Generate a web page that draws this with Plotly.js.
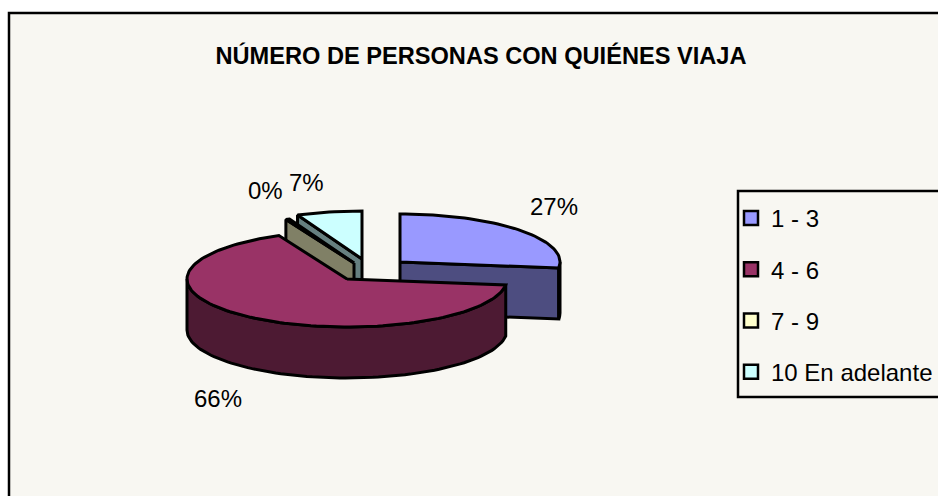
<!DOCTYPE html>
<html>
<head>
<meta charset="utf-8">
<script src="https://cdn.plot.ly/plotly-3.0.1.min.js"></script>
<style>html,body{margin:0;padding:0;background:#fff}</style>
</head>
<body>
<div id="chart" style="width:938px;height:496px"></div>
<script>
var categories = ['1 - 3', '4 - 6', '7 - 9', '10 En adelante'];
var values = [27, 66, 0.4, 6.6];
var topColors = ['#9999FF', '#993366', '#FFFFCC', '#CCFFFF'];
var sideColors = ['#4D4D80', '#4D1A33', '#808066', '#668080'];
var offsetX = [53, 0, 7, 15];
var offsetY = [-17, 0, -16, -20];
var labelX = [554, 218, 265, 306];
var labelY = [206, 398, 190, 182];
var drawOrder = [3, 2, 0, 1];

var CX = 347, CY = 279, RX = 160, RY = 48, DEPTH = 51;
var FONT = '"Liberation Sans", Arial, sans-serif';
var total = values.reduce(function (a, b) { return a + b; }, 0);

var starts = [], ends = [], acc = 0;
values.forEach(function (v) {
  starts.push(acc / total * 360);
  acc += v;
  ends.push(acc / total * 360);
});

function rim(cx, cy, deg) {
  var r = deg * Math.PI / 180;
  return [cx + RX * Math.sin(r), cy - RY * Math.cos(r)];
}
function arc(cx, cy, a0, a1) {
  var pts = [], n = Math.max(2, Math.ceil((a1 - a0) / 2));
  for (var i = 0; i <= n; i++) pts.push(rim(cx, cy, a0 + (a1 - a0) * i / n));
  return pts;
}
function poly(pts, color) {
  var closed = pts.concat([pts[0]]);
  return {
    type: 'scatter', mode: 'lines', fill: 'toself', fillcolor: color,
    x: closed.map(function (p) { return p[0]; }),
    y: closed.map(function (p) { return p[1]; }),
    line: { color: '#000', width: 3 },
    showlegend: false, hoverinfo: 'skip'
  };
}
function down(pts) {
  return pts.map(function (p) { return [p[0], p[1] + DEPTH]; });
}
function radialFace(cx, cy, deg, color) {
  var a = [[cx, cy], rim(cx, cy, deg)];
  return poly(a.concat(down(a).reverse()), color);
}

var traces = [];
drawOrder.forEach(function (i) {
  var cx = CX + offsetX[i], cy = CY + offsetY[i], a0 = starts[i], a1 = ends[i];
  if (a0 > 180) traces.push(radialFace(cx, cy, a0, sideColors[i]));
  if (a1 < 180) traces.push(radialFace(cx, cy, a1, sideColors[i]));
  var w0 = Math.max(a0, 90), w1 = Math.min(a1, 270);
  if (w1 > w0) {
    var wall = arc(cx, cy, w0, w1);
    traces.push(poly(wall.concat(down(wall).reverse()), sideColors[i]));
  }
  traces.push(poly([[cx, cy]].concat(arc(cx, cy, a0, a1)), topColors[i]));
});

categories.forEach(function (name, i) {
  traces.push({
    type: 'scatter', mode: 'markers', name: name, legendgroup: name,
    x: [null], y: [null], hoverinfo: 'skip',
    marker: { symbol: 'square', size: 14, color: topColors[i], line: { color: '#000', width: 2.5 } }
  });
});

var annotations = values.map(function (v, i) {
  return {
    xref: 'x', yref: 'y', x: labelX[i], y: labelY[i], showarrow: false,
    text: Math.round(v / total * 100) + '%',
    font: { family: FONT, size: 24, color: '#000' }
  };
});

var layout = {
  width: 938, height: 496, autosize: false,
  margin: { l: 0, r: 0, t: 0, b: 0 },
  paper_bgcolor: '#fff', plot_bgcolor: 'rgba(0,0,0,0)',
  title: {
    text: '<b>NÚMERO DE PERSONAS CON QUIÉNES VIAJA</b>',
    font: { family: FONT, size: 23.6, color: '#000' },
    x: 481 / 938, xanchor: 'center', y: 1 - 56 / 496, yanchor: 'middle'
  },
  xaxis: { range: [0, 938], visible: false, fixedrange: true },
  yaxis: { range: [496, 0], visible: false, fixedrange: true },
  showlegend: true,
  legend: {
    x: 731 / 938, xanchor: 'left', y: 1 - 196 / 496, yanchor: 'top',
    bgcolor: 'rgba(0,0,0,0)', borderwidth: 0,
    font: { family: FONT, size: 24, color: '#000' },
    tracegroupgap: 17, itemclick: false, itemdoubleclick: false
  },
  annotations: annotations,
  shapes: [
    { type: 'rect', xref: 'x', yref: 'y', layer: 'below', x0: 9, x1: 1000, y0: 13, y1: 560,
      fillcolor: '#F8F7F2', line: { color: '#000', width: 2.5 } },
    { type: 'rect', xref: 'x', yref: 'y', layer: 'below', x0: 738, x1: 1000, y0: 191, y1: 397,
      fillcolor: '#F8F7F2', line: { color: '#000', width: 2.5 } }
  ]
};

Plotly.newPlot('chart', traces, layout, { displayModeBar: false, staticPlot: true });
</script>
</body>
</html>
